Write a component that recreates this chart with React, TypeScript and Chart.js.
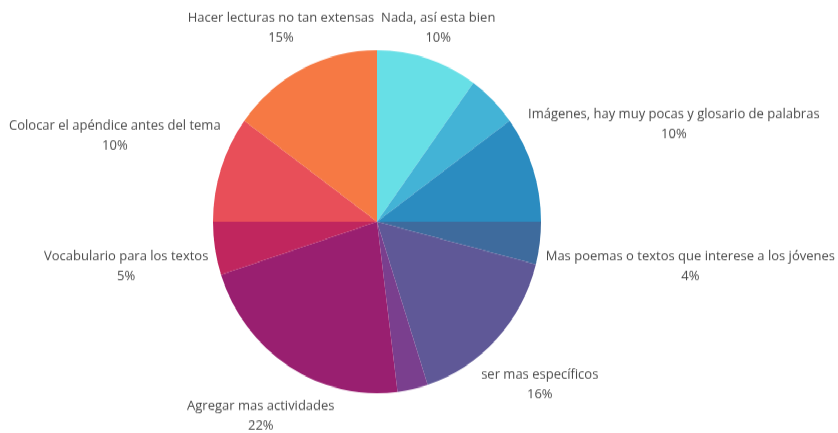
import React, { useEffect, useRef } from "react";
import { Chart, registerables } from "chart.js";

Chart.register(...registerables);

const categories: string[] = [
  "Nada, así esta bien",
  "",
  "Imágenes, hay muy pocas y glosario de palabras",
  "Mas poemas o textos que interese a los jóvenes",
  "ser mas específicos",
  "",
  "Agregar mas actividades",
  "Vocabulario para los textos",
  "Colocar el apéndice antes del tema",
  "Hacer lecturas no tan extensas",
];
const values: number[] = [10, 5, 10, 4, 16, 3, 22, 5, 10, 15];
const colors: string[] = [
  "#67dfe6",
  "#43b3d6",
  "#2b8cc0",
  "#3e6b9d",
  "#5f5897",
  "#7a3f8e",
  "#991f70",
  "#c0265e",
  "#e84f59",
  "#f67944",
];

const W = 838;
const H = 414;
const SCALE_Y = 433 / H;

const outLabels = {
  id: "outLabels",
  afterDraw(chart: any) {
    const ctx = chart.ctx;
    const meta = chart.getDatasetMeta(0);
    const data = chart.data.datasets[0].data as number[];
    const total = data.reduce((a, b) => a + b, 0);
    ctx.save();
    ctx.font = "13px 'Open Sans'";
    ctx.fillStyle = "#4a4a4a";
    ctx.textAlign = "center";
    ctx.textBaseline = "middle";
    const lh = 19;
    meta.data.forEach((arc: any, i: number) => {
      const label = chart.data.labels[i] as string;
      if (!label) return;
      const pct = Math.round((data[i] / total) * 100) + "%";
      const { x: cx, y: cy, startAngle, endAngle, outerRadius } = arc.getProps(
        ["x", "y", "startAngle", "endAngle", "outerRadius"],
        true
      );
      const mid = (startAngle + endAngle) / 2;
      const dx = Math.cos(mid);
      const dy = Math.sin(mid);
      const w = Math.max(ctx.measureText(label).width, ctx.measureText(pct).width);
      const h = lh + 18;
      const D = outerRadius + 6;
      let lo = 0;
      let hi = 800;
      for (let k = 0; k < 40; k++) {
        const t = (lo + hi) / 2;
        const bx = cx + dx * t;
        const by = cy + dy * t;
        const nx = Math.max(bx - w / 2, Math.min(cx, bx + w / 2));
        const ny = Math.max(by - h / 2, Math.min(cy, by + h / 2));
        const d = Math.hypot(nx - cx, ny - cy);
        if (d >= D) hi = t;
        else lo = t;
      }
      const bx = cx + dx * hi;
      const by = cy + dy * hi + 3;
      ctx.fillText(label, bx, by - lh / 2);
      ctx.fillText(pct, bx, by + lh / 2);
    });
    ctx.restore();
  },
};

export default function App() {
  const ref = useRef<HTMLCanvasElement | null>(null);
  useEffect(() => {
    if (!ref.current) return;
    const chart = new Chart(ref.current, {
      type: "pie",
      data: {
        labels: categories,
        datasets: [
          {
            data: values,
            backgroundColor: colors,
            borderWidth: 0,
          },
        ],
      },
      options: {
        responsive: false,
        animation: false,
        devicePixelRatio: 1,
        layout: { padding: { top: 48, bottom: 38, left: 200, right: 284 } },
        plugins: {
          legend: { display: false },
          tooltip: { enabled: false },
        },
      },
      plugins: [outLabels],
    });
    return () => chart.destroy();
  }, []);
  return (
    <div
      style={{
        position: "fixed",
        left: 0,
        top: 0,
        width: W,
        height: H,
        background: "#ffffff",
        transform: `scaleY(${SCALE_Y})`,
        transformOrigin: "0 0",
      }}
    >
      <canvas ref={ref} width={W} height={H} />
    </div>
  );
}
